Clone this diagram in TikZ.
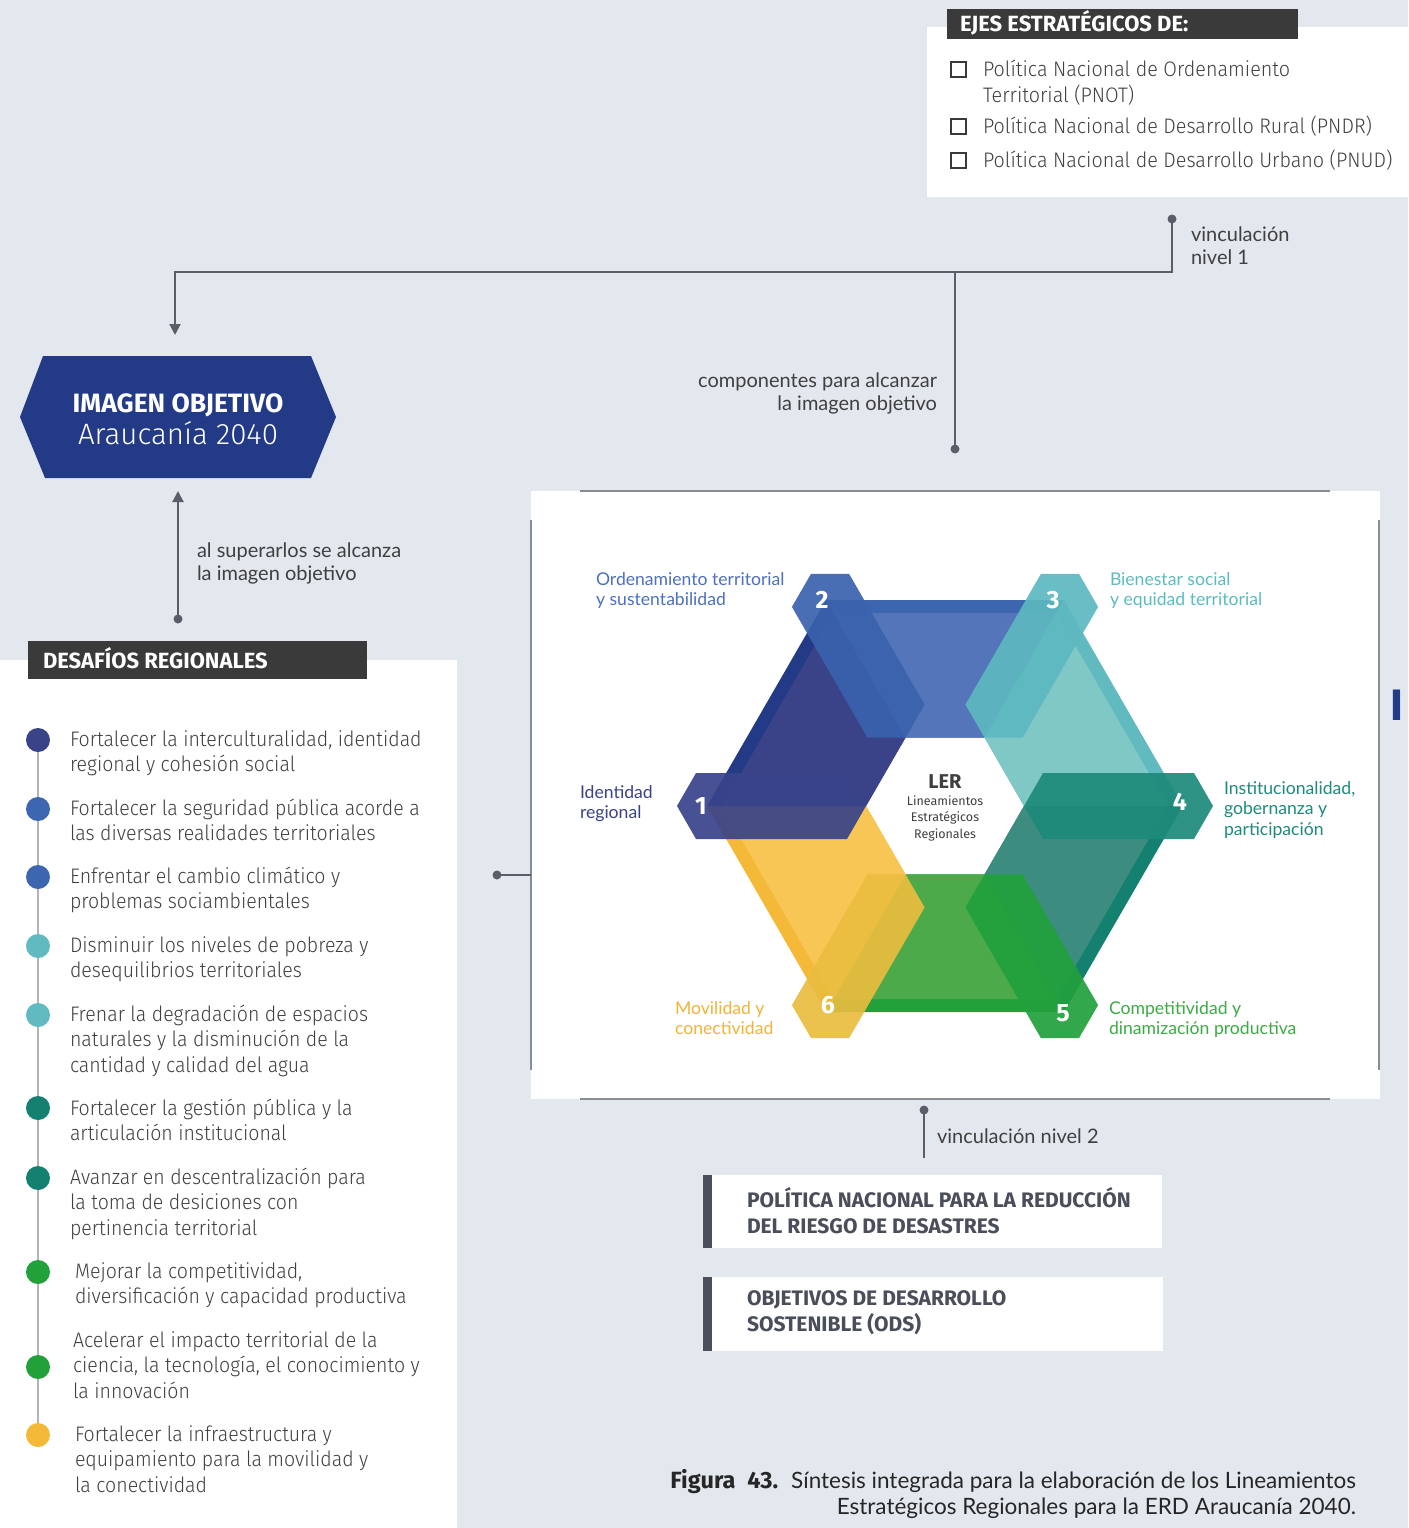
\documentclass[tikz,border=0pt]{standalone}
\usepackage{fontspec}
\usetikzlibrary{arrows.meta}
\setmainfont{Lato}
\newfontfamily\fira[FakeStretch=0.93]{Fira Sans Light}
\newfontfamily\firat[FakeStretch=0.94]{Fira Sans Light}
\newfontfamily\firal{Fira Sans Light}
\newfontfamily\firan{Fira Sans}
\newfontfamily\latof{Lato}
\definecolor{bg}{HTML}{E3E7EE}
\definecolor{hdrbg}{HTML}{3A3A3A}
\definecolor{txtg}{HTML}{404040}
\definecolor{connc}{HTML}{5B5E69}
\definecolor{panl}{HTML}{8A8C94}
\definecolor{listl}{HTML}{B4B4B4}
\definecolor{boxbar}{HTML}{4A4D5A}
\definecolor{imgc}{HTML}{233A86}
\definecolor{navyD}{HTML}{233A86}
\definecolor{navyL}{HTML}{3A4388}
\definecolor{blueD}{HTML}{3C66B0}
\definecolor{blueL}{HTML}{5475B9}
\definecolor{tealD}{HTML}{62BAC1}
\definecolor{tealL}{HTML}{80C8C5}
\definecolor{dteD}{HTML}{14806F}
\definecolor{dteL}{HTML}{3D8C80}
\definecolor{grnD}{HTML}{22A03A}
\definecolor{grnL}{HTML}{4DAA4A}
\definecolor{yelD}{HTML}{F5B93A}
\definecolor{yelL}{HTML}{F7C655}
\definecolor{hA}{HTML}{38438A}
\definecolor{hB}{HTML}{3B62AD}
\definecolor{hC}{HTML}{5DB8C0}
\definecolor{hD}{HTML}{1D8A7A}
\definecolor{hE}{HTML}{21A03C}
\definecolor{hF}{HTML}{EABD3F}
\definecolor{labBlue}{HTML}{4D6FBF}
\definecolor{labTeal}{HTML}{5DBBC0}
\definecolor{labNavy}{HTML}{3A4388}
\definecolor{labDte}{HTML}{1E8A7B}
\definecolor{labYel}{HTML}{F0B43C}
\definecolor{labGrn}{HTML}{3DAA45}
\tikzset{
  listtxt/.style={anchor=base west, align=left, text=txtg, font=\fira\fontsize{21}{25.5}\selectfont},
  ejestxt/.style={anchor=base west, align=left, text=txtg, font=\firat\fontsize{21}{25}\selectfont},
  hdrtxt/.style={anchor=base west, text=white, font=\firan\bfseries\fontsize{22}{22}\selectfont},
  boxtxt/.style={anchor=base west, align=left, text=boxbar, font=\firan\bfseries\fontsize{21}{26}\selectfont},
  conntxt/.style={anchor=base west, align=left, text=txtg, font=\latof\fontsize{20}{23}\selectfont},
  hexlab/.style={anchor=base west, align=left, font=\latof\fontsize{17.6}{20.5}\selectfont},
  numtxt/.style={text=white, font=\firan\bfseries\fontsize{25}{25}\selectfont},
  conn/.style={draw=connc, line width=2pt},
  dotc/.style={fill=connc},
  chk/.style={draw=hdrbg, line width=2.4pt},
  panelline/.style={draw=panl, line width=2pt},
  ldot/.style={circle, minimum size=24pt, inner sep=0pt},
}
\begin{document}
\begin{tikzpicture}[x=1pt, y=-1pt, every node/.style={inner sep=0pt, outer sep=0pt}]
\fill[bg] (0,0) rectangle (1408,1528);
\useasboundingbox (0,0) rectangle (1408,1528);

% ---------- top right box ----------
\fill[white] (927,27) rectangle (1408,197);
\fill[hdrbg] (947,9) rectangle (1298,39);
\node[hdrtxt] (ejes) at (960,32) {EJES ESTRATÉGICOS DE:};
\draw[chk] (951,62) rectangle (966,77);
\draw[chk] (951,119) rectangle (966,134);
\draw[chk] (951,153) rectangle (966,168);
\node[ejestxt] (pnot) at (983,102) {Política Nacional de Ordenamiento\\Territorial (PNOT)};
\node[ejestxt] (pndr) at (983,133) {Política Nacional de Desarrollo Rural (PNDR)};
\node[ejestxt] (pnud) at (983,167) {Política Nacional de Desarrollo Urbano (PNUD)};

% ---------- connectors top ----------
\coordinate (v1dot) at (1172,219);
\coordinate (v1corner) at (1172,272);
\coordinate (junc) at (955,272);
\coordinate (compdot) at (955,449);
\coordinate (imgin) at (175,335);
\draw[conn, -{Triangle[length=11pt,width=11pt]}] (v1dot) -- (v1corner) -| (imgin);
\draw[conn] (junc) -- (compdot);
\fill[dotc] (v1dot) circle (4.5);
\fill[dotc] (compdot) circle (4.5);
\node[conntxt] (vinc1) at (1191,264) {vinculación\\nivel 1};
\node[conntxt, anchor=base east, align=right] (comp) at (937,410) {componentes para alcanzar\\la imagen objetivo};

% ---------- imagen objetivo ----------
\fill[imgc] (20,417) -- (43,356) -- (311,356) -- (336,417) -- (311,478) -- (45,478) -- cycle;
\node[text=white, anchor=base, font=\firan\bfseries\fontsize{26.5}{27}\selectfont] (img1) at (178,412) {IMAGEN OBJETIVO};
\node[text=white, anchor=base, font=\firal\fontsize{29.5}{30}\selectfont] (img2) at (178,444) {Araucanía 2040};

\coordinate (desdot) at (178,619);
\coordinate (imgbot) at (178,491);
\draw[conn, -{Triangle[length=11pt,width=11pt]}] (desdot) -- (imgbot);
\fill[dotc] (desdot) circle (4.5);
\node[conntxt] (super) at (197,580) {al superarlos se alcanza\\la imagen objetivo};

% ---------- desafios panel ----------
\fill[white] (0,660) rectangle (457,1528);
\fill[hdrbg] (28,641) rectangle (367,679);
\node[hdrtxt] (desaf) at (43,668) {DESAFÍOS REGIONALES};
\draw[listl, line width=2.5pt] (38,740) -- (38,1435);
\node[ldot, fill=navyL] (d1) at (38,740) {};
\node[ldot, fill=blueD] (d2) at (38,809) {};
\node[ldot, fill=blueD] (d3) at (38,877) {};
\node[ldot, fill=tealD] (d4) at (38,946) {};
\node[ldot, fill=tealD] (d5) at (38,1015) {};
\node[ldot, fill=dteD] (d6) at (38,1108) {};
\node[ldot, fill=dteD] (d7) at (38,1178) {};
\node[ldot, fill=grnD] (d8) at (38,1272) {};
\node[ldot, fill=grnD] (d9) at (38,1367) {};
\node[ldot, fill=yelD] (d10) at (38,1435) {};
\node[listtxt] (t1) at (70,771.5) {Fortalecer la interculturalidad, identidad\\regional y cohesión social};
\node[listtxt] (t2) at (70,840.5) {Fortalecer la seguridad pública acorde a\\las diversas realidades territoriales};
\node[listtxt] (t3) at (70,908.5) {Enfrentar el cambio climático y\\problemas sociambientales};
\node[listtxt] (t4) at (70,977.5) {Disminuir los niveles de pobreza y\\desequilibrios territoriales};
\node[listtxt] (t5) at (70,1072) {Frenar la degradación de espacios\\naturales y la disminución de la\\cantidad y calidad del agua};
\node[listtxt] (t6) at (70,1140.5) {Fortalecer la gestión pública y la\\articulación institucional};
\node[listtxt] (t7) at (70,1235) {Avanzar en descentralización para\\la toma de desiciones con\\pertinencia territorial};
\node[listtxt] (t8) at (75,1303.5) {Mejorar la competitividad,\\diversificación y capacidad productiva};
\node[listtxt] (t9) at (73,1398) {Acelerar el impacto territorial de la\\ciencia, la tecnología, el conocimiento y\\la innovación};
\node[listtxt] (t10) at (75,1492) {Fortalecer la infraestructura y\\equipamiento para la movilidad y\\la conectividad};

% ---------- central panel ----------
\fill[white] (531,491) rectangle (1380,1099);
\draw[panelline] (580,491) -- (1330,491);
\draw[panelline] (580,1099) -- (1330,1099);
\draw[panelline] (531,520) -- (531,1070);
\draw[panelline] (1379,520) -- (1379,1070);
\coordinate (leftdot) at (497,875);
\coordinate (panelL) at (531,875);
\draw[conn] (leftdot) -- (panelL);
\fill[dotc] (leftdot) circle (4.5);

% bands
\foreach \ang/\dk/\lt in {150/navyD/navyL, 90/blueD/blueL, 30/tealD/tealL, -30/dteD/dteL, -90/grnD/grnL, 210/yelD/yelL}{
  \begin{scope}[shift={(945,806)}, rotate=\ang]
    \fill[fill=\dk] (68.4,-39.5) -- (206,-118.9) -- (206,118.9) -- (68.4,39.5) -- cycle;
    \fill[fill=\lt] (68.4,-39.5) -- (193,-111.4) -- (193,111.4) -- (68.4,39.5) -- cycle;
  \end{scope}
}
% radial hexes
\foreach \ang/\col in {180/hA, 120/hB, 60/hC, 0/hD, -60/hE, -120/hF}{
  \fill[fill=\col, opacity=0.92, shift={(945,806)}, rotate=\ang] (79,0) -- (98,33) -- (249,33) -- (268,0) -- (249,-33) -- (98,-33) -- cycle;
}
\node[numtxt] (n1) at (701,806) {1};
\node[numtxt] (n2) at (822,600) {2};
\node[numtxt] (n3) at (1053,600) {3};
\node[numtxt] (n4) at (1180,802) {4};
\node[numtxt] (n5) at (1063,1013) {5};
\node[numtxt] (n6) at (828,1005) {6};

\node[anchor=base, text=txtg, font=\firan\bfseries\fontsize{20}{20}\selectfont] (ler) at (945,788) {LER};
\node[anchor=base, align=center, text=txtg, font=\firan\fontsize{12.5}{16.5}\selectfont] (lers) at (945,838) {Lineamientos\\Estratégicos\\Regionales};

\node[hexlab, text=labBlue] (lab2) at (596,605.5) {Ordenamiento territorial\\y sustentabilidad};
\node[hexlab, text=labTeal] (lab3) at (1110,605.5) {Bienestar social\\y equidad territorial};
\node[hexlab, text=labNavy] (lab1) at (580,818.5) {Identidad\\regional};
\node[hexlab, text=labDte] (lab4) at (1224,835) {Institucionalidad,\\gobernanza y\\participación};
\node[hexlab, text=labYel] (lab6) at (675,1034.5) {Movilidad y\\conectividad};
\node[hexlab, text=labGrn] (lab5) at (1109,1034.5) {Competitividad y\\dinamización productiva};

\node[text=navyD, anchor=west, font=\firan\bfseries\fontsize{44}{44}\selectfont] (cut) at (1390,705) {I};

% ---------- bottom ----------
\coordinate (botdot) at (924,1110);
\coordinate (botend) at (924,1158);
\draw[conn] (botdot) -- (botend);
\fill[dotc] (botdot) circle (4.5);
\node[conntxt] (vinc2) at (937,1143) {vinculación nivel 2};

\fill[white] (703,1175) rectangle (1162,1248);
\fill[boxbar] (703,1175) rectangle (712,1248);
\node[boxtxt] (pnrrd) at (747,1233) {POLÍTICA NACIONAL PARA LA REDUCCIÓN\\DEL RIESGO DE DESASTRES};
\fill[white] (703,1277) rectangle (1163,1351);
\fill[boxbar] (703,1277) rectangle (712,1351);
\node[boxtxt] (ods) at (747,1331) {OBJETIVOS DE DESARROLLO\\SOSTENIBLE (ODS)};

% caption
\node[anchor=base east, text=black!85, font=\latof\fontsize{22.5}{26}\selectfont] (cap1) at (1356,1488) {{\firan\bfseries\fontsize{23.5}{26}\selectfont Figura\hspace{12pt}43.}\hspace{13pt}Síntesis integrada para la elaboración de los Lineamientos};
\node[anchor=base east, text=black!85, font=\latof\fontsize{22.5}{26}\selectfont] (cap2) at (1356,1514) {Estratégicos Regionales para la ERD Araucanía 2040.};
\end{tikzpicture}
\end{document}
